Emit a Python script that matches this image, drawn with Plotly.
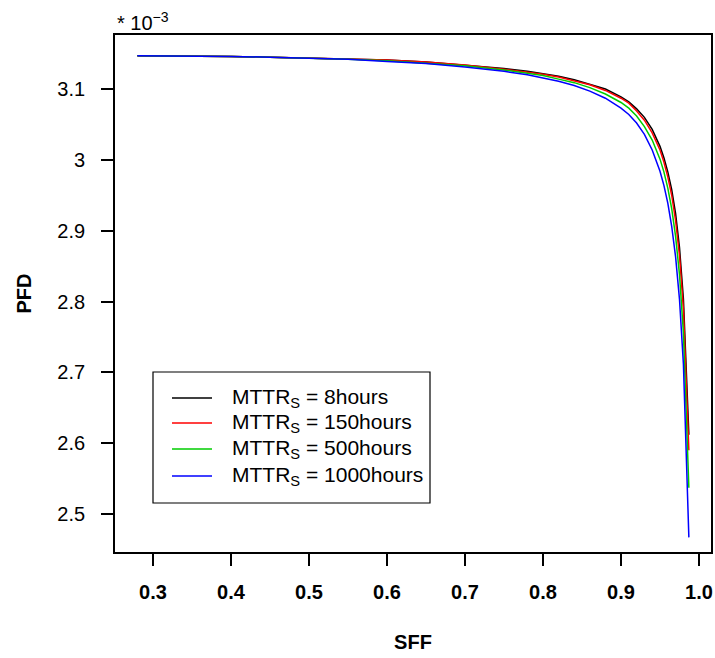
import plotly.graph_objects as go

# Safe failure fraction (x) and probability of failure on demand (y, in units of 1e-3)
sff = [0.28, 0.30, 0.35, 0.40, 0.45, 0.50, 0.55, 0.60, 0.65, 0.70, 0.75, 0.78,
       0.80, 0.82, 0.84, 0.86, 0.88, 0.90, 0.91, 0.92, 0.93, 0.94, 0.95, 0.955,
       0.96, 0.965, 0.97, 0.975, 0.98, 0.987]

pfd_8h = [3.147, 3.147, 3.147, 3.146, 3.145, 3.144, 3.143, 3.141, 3.138, 3.134,
          3.129, 3.125, 3.122, 3.118, 3.113, 3.107, 3.100, 3.089, 3.082, 3.072,
          3.060, 3.043, 3.019, 3.003, 2.983, 2.958, 2.924, 2.876, 2.804, 2.612]
pfd_150h = [3.147, 3.147, 3.147, 3.146, 3.145, 3.144, 3.143, 3.141, 3.138, 3.134,
            3.128, 3.124, 3.121, 3.117, 3.112, 3.106, 3.098, 3.087, 3.080, 3.069,
            3.056, 3.038, 3.014, 2.997, 2.976, 2.950, 2.914, 2.865, 2.790, 2.590]
pfd_500h = [3.147, 3.147, 3.147, 3.146, 3.145, 3.144, 3.142, 3.140, 3.137, 3.133,
            3.127, 3.122, 3.119, 3.114, 3.109, 3.102, 3.093, 3.081, 3.073, 3.062,
            3.047, 3.028, 3.001, 2.983, 2.960, 2.931, 2.892, 2.838, 2.756, 2.537]
pfd_1000h = [3.147, 3.147, 3.146, 3.146, 3.145, 3.144, 3.142, 3.139, 3.136, 3.131,
             3.125, 3.120, 3.116, 3.111, 3.105, 3.097, 3.087, 3.073, 3.064, 3.052,
             3.036, 3.014, 2.984, 2.964, 2.939, 2.906, 2.863, 2.803, 2.712, 2.467]

series_names = ["MTTR<sub>S</sub> = 8hours", "MTTR<sub>S</sub> = 150hours",
                "MTTR<sub>S</sub> = 500hours", "MTTR<sub>S</sub> = 1000hours"]
series_values = [pfd_8h, pfd_150h, pfd_500h, pfd_1000h]
series_colors = ["#000000", "#FF0000", "#00CD00", "#0000FF"]

x_ticks = [0.3, 0.4, 0.5, 0.6, 0.7, 0.8, 0.9, 1.0]
x_ticklabels = ["0.3", "0.4", "0.5", "0.6", "0.7", "0.8", "0.9", "1.0"]
y_ticks = [2.5, 2.6, 2.7, 2.8, 2.9, 3.0, 3.1]
y_ticklabels = ["2.5", "2.6", "2.7", "2.8", "2.9", "3", "3.1"]

W, H = 715, 658
L, R, T, B = 115, 711, 35, 552  # plot box in pixels
FONT = "Liberation Sans, Arial, Helvetica, sans-serif"


def px(xp):
    return (xp - L) / (R - L)


def py(yp):
    return (B - yp) / (B - T)


fig = go.Figure()
for name, vals, col in zip(series_names, series_values, series_colors):
    fig.add_trace(go.Scatter(x=sff, y=vals, mode="lines", name=name,
                             line=dict(color=col, width=1.5), showlegend=False))

# legend box drawn by hand, R style
shapes = [dict(type="rect", xref="paper", yref="paper",
               x0=px(153), x1=px(430), y0=py(503), y1=py(372),
               line=dict(color="black", width=1.2), fillcolor="white", layer="above")]
annotations = []
row_y = [398, 423, 449, 476]
for yy, name, col in zip(row_y, series_names, series_colors):
    shapes.append(dict(type="line", xref="paper", yref="paper",
                       x0=px(172), x1=px(212), y0=py(yy), y1=py(yy),
                       line=dict(color=col, width=1.5), layer="above"))
    annotations.append(dict(xref="paper", yref="paper", x=px(230), y=py(yy),
                            text=name, showarrow=False, xanchor="left",
                            yanchor="middle",
                            font=dict(size=21, color="black", family=FONT)))

annotations.append(dict(xref="paper", yref="paper", x=px(115), y=py(22),
                        text="*\u00a010<sup>\u22123</sup>", showarrow=False,
                        xanchor="left", yanchor="middle",
                        font=dict(size=20, color="black", family=FONT)))

axis_common = dict(showline=True, linecolor="black", linewidth=1.8, mirror=True,
                   ticks="outside", ticklen=12, tickwidth=1.5, tickcolor="black",
                   showgrid=False, zeroline=False)

fig.update_layout(
    width=W, height=H,
    margin=dict(l=L, r=W - R, t=T, b=H - B, autoexpand=False),
    paper_bgcolor="white", plot_bgcolor="white",
    xaxis=dict(range=[0.3 - (153 - L) / 780, 1.0 + (R - 699) / 780],
               tickvals=x_ticks, ticktext=x_ticklabels, ticklabelstandoff=9,
               tickfont=dict(size=20, color="black", family=FONT, weight="bold"),
               title=dict(text="SFF", standoff=33,
                          font=dict(size=20, color="black", family=FONT,
                                    weight="bold")),
               **axis_common),
    yaxis=dict(range=[2.5 - (B - 514) / 708, 3.1 + (89 - T) / 708],
               tickvals=y_ticks, ticktext=y_ticklabels, ticklabelstandoff=12,
               tickfont=dict(size=20, color="black", family=FONT),
               title=dict(text="PFD", standoff=20,
                          font=dict(size=20, color="black", family=FONT,
                                    weight="bold")),
               **axis_common),
    shapes=shapes, annotations=annotations,
)

fig.write_html("out.html")
